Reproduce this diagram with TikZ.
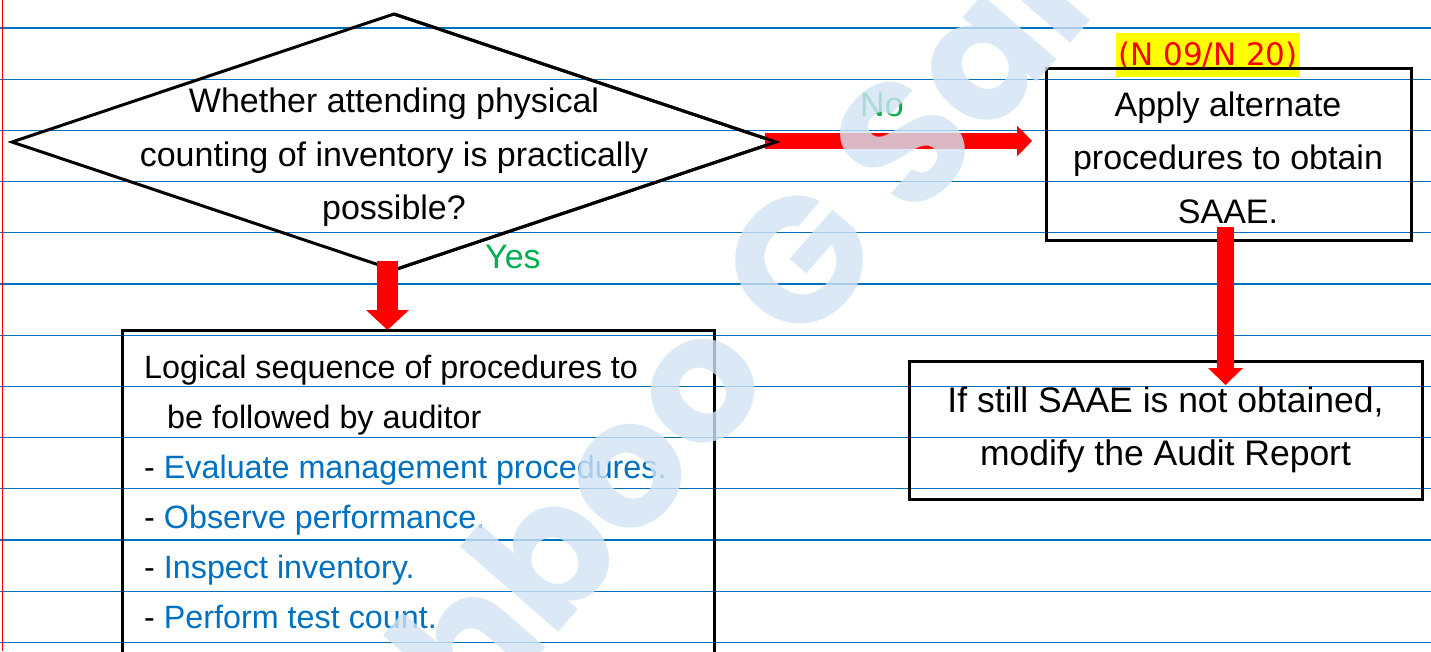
\documentclass[tikz,border=0pt]{standalone}
\usepackage{fontspec}
\setmainfont{Liberation Sans}
\newfontfamily\tagfont{DejaVu Sans}
\newfontfamily\markfont{Poppins}
\usetikzlibrary{shapes.geometric,arrows.meta,calc}

\definecolor{ruleblue}{RGB}{0,112,192}
\definecolor{marginred}{RGB}{255,0,0}
\definecolor{arrowred}{RGB}{255,0,0}
\definecolor{yesgreen}{RGB}{0,176,80}
\definecolor{listblue}{RGB}{0,112,192}
\definecolor{hilite}{RGB}{255,255,0}
\definecolor{markblue}{RGB}{210,228,244}

\tikzset{
  outline/.style={draw=black, line width=3pt, outer sep=0pt, inner sep=0pt},
  decision/.style={outline, diamond, minimum width=764pt, minimum height=256pt},
  stepbox/.style={outline, rectangle},
  hand/.style={font=\fontsize{34}{53.5}\selectfont, align=center, inner sep=0pt},
  flow/.style={draw=arrowred, line cap=butt},
  answer/.style={text=yesgreen, font=\fontsize{34}{40}\selectfont, inner sep=0pt, anchor=base west},
  tagline/.style={fill=hilite, inner sep=0pt, minimum width=184pt, text height=32pt,
    text depth=12pt, text=red, font=\tagfont\fontsize{31}{36}\selectfont},
  watermark/.style={text=markblue, text opacity=0.8, inner sep=0pt,
    font=\markfont\bfseries\fontsize{176}{176}\selectfont},
}

\begin{document}
\begin{tikzpicture}[x=1pt,y=-1pt]
\useasboundingbox (0,0) rectangle (1431,651);
\clip (0,0) rectangle (1431,651);
\fill[white] (0,0) rectangle (1431,651);

% ruled notebook paper
\foreach \k in {0,...,12}
  \draw[ruleblue, line width=1.3pt] (0,28+51.2*\k) -- (1431,28+51.2*\k);
\draw[marginred, line width=1.2pt] (2.5,0) -- (2.5,651);

% exam reference tag
\node[tagline] (tag) at (1208,55) {(N 09/N 20)};

% decision and boxes
\node[decision] (q) at (394,142) {};
\node[stepbox, minimum width=365pt, minimum height=172pt] (alt) at (1228.5,154) {};
\node[stepbox, minimum width=592pt, minimum height=400pt] (seq) at (418,530) {};
\node[stepbox, hand, font=\fontsize{35.5}{53}\selectfont, minimum width=513pt, minimum height=138pt]
  (mod) at (1165.5,430) {If still SAAE is not obtained,\\modify the Audit Report};

% "No" branch
\draw[flow, line width=16pt, -{Triangle[width=31pt,length=15pt,line width=0pt]}]
  ($(q.east)+(-11,-1)$) -- ($(q.east -| alt.west)+(-14,-1)$);
\draw[black, line width=3pt] (q.north) -- (q.east) -- (q.south);

% texts
\node[hand] (qtext) at (394,157.5)
  {Whether attending physical\\counting of inventory is practically\\possible?};
\node[hand] (alttext) at (1228,157.7) {Apply alternate\\procedures to obtain\\SAAE.};
\node[inner sep=0pt, anchor=north west, align=left, font=\fontsize{32.3}{50}\selectfont]
  (seqtext) at (144,354.5)
  {Logical sequence of procedures to\\
   \hspace*{23pt}be followed by auditor\\
   - \textcolor{listblue}{Evaluate management procedures.}\\
   - \textcolor{listblue}{Observe performance.}\\
   - \textcolor{listblue}{Inspect inventory.}\\
   - \textcolor{listblue}{Perform test count.}};

\node[answer] (no) at (860,116) {No};
\node[answer] (yes) at (485,268) {Yes};

% "Yes" branch and follow-up
\draw[flow, line width=21pt, -{Triangle[width=43pt,length=20pt,line width=0pt]}]
  ($(q.south)+(-6.5,-9)$) -- ($(q.south |- seq.north)+(-6.5,0)$);
\draw[flow, line width=17pt, -{Triangle[width=35pt,length=17pt,line width=0pt]}]
  ($(alt.south)+(-3,-13)$) -- ($(alt.south |- mod.north)+(-3,24)$);

% watermark
\node[watermark, rotate=49] (mark) at (745,320) {hboo G Sar};
\end{tikzpicture}
\end{document}
